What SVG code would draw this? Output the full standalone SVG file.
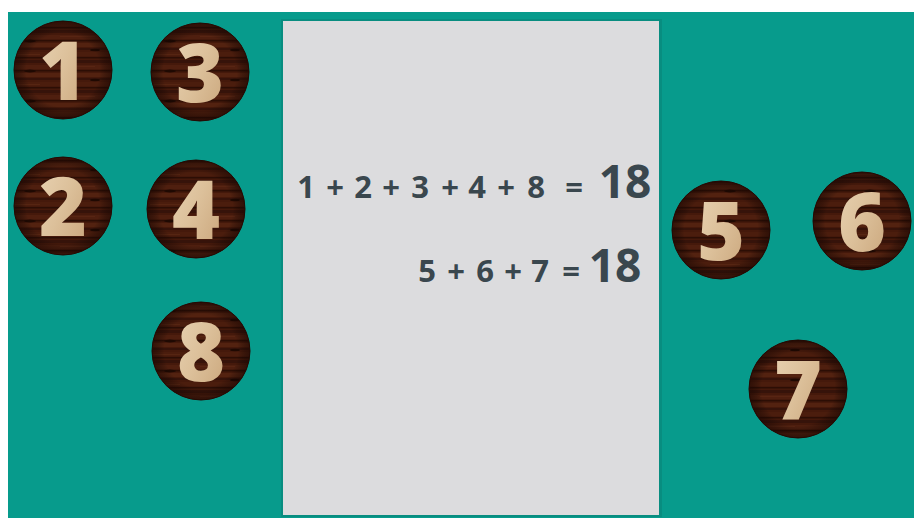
<svg xmlns="http://www.w3.org/2000/svg" width="914" height="518" viewBox="0 0 914 518">
  <defs>
    <pattern id="wood" patternUnits="userSpaceOnUse" width="140" height="30">
      <rect width="140" height="30" fill="#45190b"/>
      <rect y="0" width="140" height="3" fill="#36130a"/>
      <rect y="5" width="140" height="4" fill="#4f1f0f"/>
      <rect y="10" width="140" height="1.5" fill="#2c0e05"/>
      <rect y="13" width="140" height="4" fill="#532210"/>
      <rect y="18" width="140" height="2" fill="#36130a"/>
      <rect y="22" width="140" height="4" fill="#4b1d0d"/>
      <rect y="27" width="140" height="1.5" fill="#2c0e05"/>
      <ellipse cx="30" cy="11" rx="6" ry="1.5" fill="#1f0902"/>
      <ellipse cx="95" cy="20" rx="5" ry="1.2" fill="#1f0902"/>
      <rect x="60" y="6" width="35" height="1" fill="#5e2a16" opacity="0.6"/>
      <rect x="10" y="24" width="30" height="1" fill="#5e2a16" opacity="0.6"/>
    </pattern>
    <radialGradient id="rim" cx="0.5" cy="0.5" r="0.5">
      <stop offset="0.75" stop-color="#000" stop-opacity="0"/>
      <stop offset="1" stop-color="#1a0602" stop-opacity="0.55"/>
    </radialGradient>
    <linearGradient id="tan" x1="0" y1="0" x2="1" y2="1">
      <stop offset="0" stop-color="#ead5b6"/>
      <stop offset="0.5" stop-color="#dcc09a"/>
      <stop offset="1" stop-color="#c8a378"/>
    </linearGradient>
  </defs>
  <style>
    .disc { fill: url(#wood); }
    .rim { fill: url(#rim); stroke: #240a03; stroke-width: 1; }
    .num { font-family: "Open Sans", "DejaVu Sans", sans-serif; font-weight: 800; font-size: 82px; fill: url(#tan); text-anchor: middle; }
    .eq { font-family: "Open Sans", "DejaVu Sans", sans-serif; font-weight: 700; font-size: 31px; fill: #3a474e; text-anchor: middle; }
    .big { font-family: "Open Sans", "DejaVu Sans", sans-serif; font-weight: 700; font-size: 46px; fill: #3a474e; text-anchor: middle; }
  </style>

  <rect width="914" height="518" fill="#ffffff"/>
  <rect x="8" y="12" width="906" height="506" fill="#079b8c"/>
  <rect x="281" y="19" width="381" height="498" fill="#0a7f74" opacity="0.5"/>
  <rect x="283" y="21" width="376" height="494" fill="#dcdcde"/>

  <g id="panel-text">
    <text class="eq" y="198" x="306 335 363 391 420 450 477 506 536 574">1+2+3+4+8=</text>
    <text class="big" x="625" y="198">18</text>
    <text class="eq" y="282" x="427 456 485 513 540 571">5+6+7=</text>
    <text class="big" x="615" y="282">18</text>
  </g>

  <g id="node-1">
    <circle class="disc" cx="63" cy="70" r="49"/>
    <circle class="rim" cx="63" cy="70" r="49"/>
    <text class="num" x="63" y="100">1</text>
  </g>
  <g id="node-3">
    <circle class="disc" cx="200" cy="72" r="49"/>
    <circle class="rim" cx="200" cy="72" r="49"/>
    <text class="num" x="200" y="102">3</text>
  </g>
  <g id="node-2">
    <circle class="disc" cx="63" cy="206" r="49"/>
    <circle class="rim" cx="63" cy="206" r="49"/>
    <text class="num" x="63" y="236">2</text>
  </g>
  <g id="node-4">
    <circle class="disc" cx="196" cy="209" r="49"/>
    <circle class="rim" cx="196" cy="209" r="49"/>
    <text class="num" x="196" y="239">4</text>
  </g>
  <g id="node-8">
    <circle class="disc" cx="201" cy="351" r="49"/>
    <circle class="rim" cx="201" cy="351" r="49"/>
    <text class="num" x="201" y="381">8</text>
  </g>
  <g id="node-5">
    <circle class="disc" cx="721" cy="230" r="49"/>
    <circle class="rim" cx="721" cy="230" r="49"/>
    <text class="num" x="721" y="260">5</text>
  </g>
  <g id="node-6">
    <circle class="disc" cx="862" cy="221" r="49"/>
    <circle class="rim" cx="862" cy="221" r="49"/>
    <text class="num" x="862" y="251">6</text>
  </g>
  <g id="node-7">
    <circle class="disc" cx="798" cy="389" r="49"/>
    <circle class="rim" cx="798" cy="389" r="49"/>
    <text class="num" x="798" y="419">7</text>
  </g>
</svg>
